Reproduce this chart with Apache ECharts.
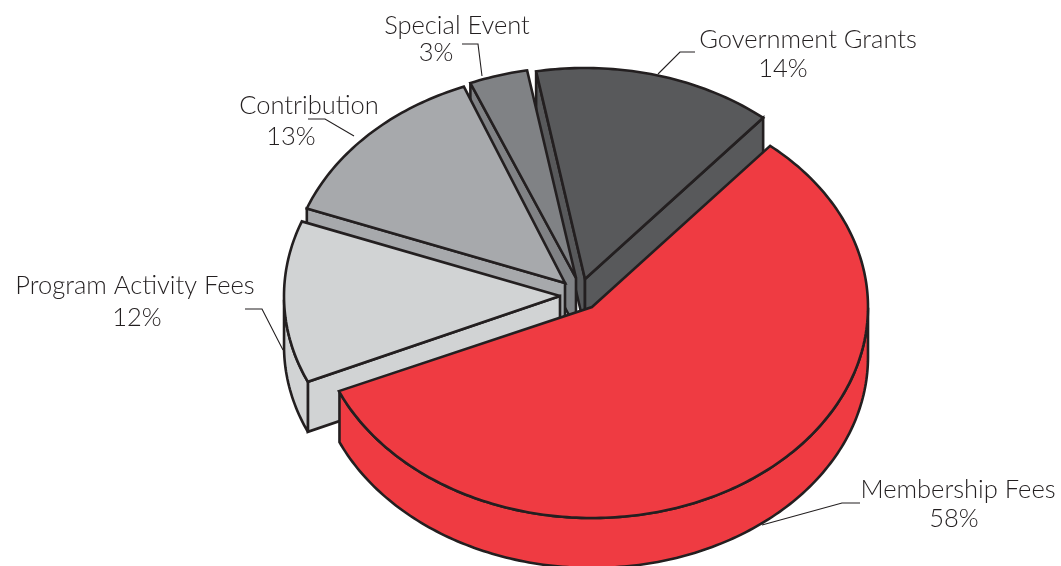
<!DOCTYPE html>
<html><head><meta charset="utf-8">
<style>html,body{margin:0;padding:0;background:#fff}#c{width:1061px;height:566px}</style>
<script src="https://cdn.jsdelivr.net/npm/echarts@6/dist/echarts.min.js"></script>
</head><body><div id="c"></div>
<script>
// Data, in painting order (back to front), going counter-clockwise round the pie
const categories = ['Government Grants','Special Event','Contribution','Program Activity Fees','Membership Fees'];
const shares = [14,3,13,12,58];

// Styling and layout, kept apart from the data
const colors = ['#58595B','#808285','#A7A9AC','#D1D3D4','#EF3B42'];
const apexes = [[585,279],[576,278],[565,283],[560,296],[592,307]];
// Small hand-drawn deviations of the cuts from the rounded printed percentages, degrees [lo, hi]
const seamNudge = [[0,0],[-1.5,0],[-1.5,-0.5],[-3,-1.5],[0,-2.5]];
const labelPos = [
  {n:[808,40],p:[783,69],line:[[658,74],[680,52],[695,52]]},
  {n:[457,26],p:[436,53],line:[[462,44],[478,44],[482,76]]},
  {n:[309,106],p:[291,137],line:[[308,119],[325,119],[354,136]]},
  {n:[135,286],p:[137,318],line:[[245,309],[262,309],[283,350]]},
  {n:[958,490],p:[954,519],line:[[860,503],[842,503],[762,525]]}
];
const RX=276, RY=211, DEPTH=50, END=40.2, INK='#231F20';
const FONT='Lato';

const total = shares.reduce((a,b)=>a+b,0);
const rad = d=>d*Math.PI/180;
function renderSlice(params, api){
  const i=params.dataIndex, v=api.value(0);
  let h0=END;
  for(let k=0;k<i;k++) h0-=shares[k]/total*360;
  const hi=h0+seamNudge[i][1];
  const lo=h0-v/total*360+seamNudge[i][0];
  const [ax,ay]=apexes[i];
  const pt=(t,dy)=>[ax+RX*Math.sin(rad(t)), ay-RY*Math.cos(rad(t))+(dy||0)];
  const base={fill:colors[i],stroke:INK,lineWidth:2.6,lineJoin:'miter',miterLimit:3};
  const poly=pts=>({type:'polygon',shape:{points:pts},style:base});
  const kids=[];
  const face=t=>poly([[ax,ay],pt(t),pt(t,DEPTH),[ax,ay+DEPTH]]);
  if(Math.sin(rad(lo))<0) kids.push(face(lo));
  if(Math.sin(rad(hi))>0) kids.push(face(hi));
  // outer wall: only the part of the rim that faces the viewer
  const a=[];
  for(let t=lo;t<=hi+1e-6;t+=1){ if(Math.cos(rad(t))<0) a.push(t); }
  if(a.length>1){
    const top=a.map(t=>pt(t)), bot=a.slice().reverse().map(t=>pt(t,DEPTH));
    kids.push(poly(top.concat(bot)));
  }
  const rim=[[ax,ay]];
  for(let t=lo;t<hi;t+=1) rim.push(pt(t));
  rim.push(pt(hi));
  kids.push(poly(rim));
  return {type:'group',children:kids};
}
function renderLabel(params, api){
  const i=params.dataIndex, L=labelPos[i];
  const txt=(s,p)=>({type:'text',x:p[0],y:p[1],style:{text:s,fill:'#231F20',font:'300 25.5px '+FONT,align:'center',verticalAlign:'middle'}});
  return {type:'group',children:[
    {type:'polyline',shape:{points:L.line},style:{fill:null,stroke:INK,lineWidth:1.1}},
    txt(categories[i],L.n),
    txt(api.value(0)+'%',L.p)
  ]};
}
const chart=echarts.init(document.getElementById('c'),null,{renderer:'canvas'});
chart.setOption({
  animation:false,
  backgroundColor:'#fff',
  series:[
    {type:'custom',coordinateSystem:'none',renderItem:renderLabel,silent:true,z:1,
     data:categories.map((c,i)=>({name:c,value:[shares[i]]}))},
    {type:'custom',coordinateSystem:'none',renderItem:renderSlice,silent:true,z:2,
     data:categories.map((c,i)=>({name:c,value:[shares[i]]}))}
  ]
});
</script></body></html>
